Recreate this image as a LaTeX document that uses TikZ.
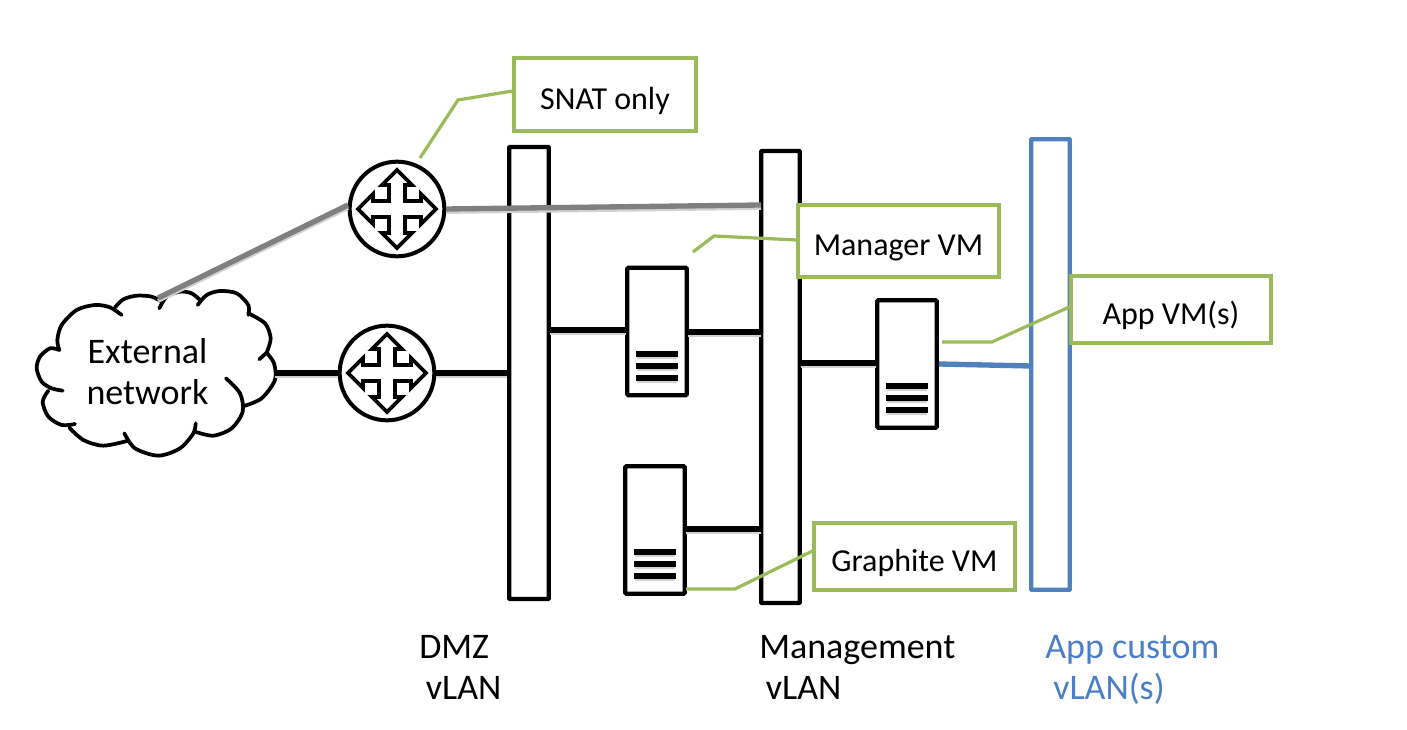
\documentclass[tikz,border=0pt]{standalone}
\usepackage{fontspec}
\setmainfont{Carlito}
\definecolor{vgreen}{HTML}{9BBB59}
\definecolor{vblue}{HTML}{4F81BD}
\definecolor{vtext}{HTML}{4A7EC8}
\definecolor{vgrey}{HTML}{7F7F7F}
\tikzset{
  lab/.style={font=\fontsize{27pt}{30.75pt}\selectfont,inner sep=0pt,align=left,anchor=north west},
  bar/.style={draw=black,line width=3.2pt,fill=white,rounded corners=0.5pt,inner sep=0pt,minimum width=#1},
  router/.style={circle,draw=black,line width=3pt,fill=white,inner sep=0pt,minimum size=71pt},
  crossarrow/.style={draw=black,line width=2.8pt,line join=miter},
  server/.style={draw=black,line width=3.2pt,fill=white,rounded corners=0.8pt,inner sep=0pt,minimum width=44.5pt,minimum height=95.5pt},
  callout/.style={draw=vgreen,line width=2.6pt,fill=white,inner sep=0pt,font=\fontsize{24pt}{30pt}\selectfont},
  leader/.style={draw=vgreen,line width=2.4pt},
  wire/.style={draw=black,line width=4pt},
  wireshadow/.style={draw=black!18,line width=3pt,transform canvas={yshift=-2.2pt}},
  greywire/.style={draw=vgrey,line width=4pt},
  bluewire/.style={draw=vblue,line width=4pt},
  cloudline/.style={draw=black,line width=2.8pt,line cap=round}
}
\newcommand{\crossat}[1]{%
  \draw[crossarrow,shift={(#1)}] (0,-39)--(-15,-24)--(-8,-24)--(-8,-8)--(-24,-8)--(-24,-15)--(-39,0)--(-24,15)--(-24,8)--(-8,8)--(-8,24)--(-15,24)--(0,39)--(15,24)--(8,24)--(8,8)--(24,8)--(24,15)--(39,0)--(24,-15)--(24,-8)--(8,-8)--(8,-24)--(15,-24)--cycle;}
\newcommand{\stackat}[1]{%
  \foreach \yy in {22.5,34.5,46.5}{
    \fill[black!18,shift={(#1)}] (-20,\yy-1) rectangle (20,\yy+5);
    \fill[black,shift={(#1)}] (-21,\yy-3) rectangle (21,\yy+3);}}
\newcommand{\boxtext}[1]{\raisebox{-11.2pt}[0pt][0pt]{#1}}
\begin{document}
\begin{tikzpicture}[x=0.75pt,y=-0.75pt]
\useasboundingbox (0,0) rectangle (1407,730);
% vLAN bars
\node[bar=29.5pt,minimum height=339pt] (dmz) at (529,373) {};
\node[bar=29pt,minimum height=339pt] (mgmt) at (780.5,377) {};
\node[bar=29pt,minimum height=338pt,draw=vblue] (app) at (1050.5,364.5) {};
% routers
\node[router] (r1) at (397,209) {};
\node[router] (r2) at (387,373) {};
\crossat{r1}
\crossat{r2}
% servers
\node[server] (s1) at (657,331.5) {};
\node[server] (s2) at (907,364) {};
\node[server] (s3) at (655,530) {};
\stackat{s1}
\stackat{s2}
\stackat{s3}
% cloud
\begin{scope}[x=0.25pt,y=-0.25pt,shift={(60,450)}]
\draw[cloudline] plot[smooth] coordinates {(118,600)(90,595)(60,620)(50,655)(65,695)(95,715)(128,722)};
\draw[cloudline] plot[smooth] coordinates {(85,722)(68,755)(85,800)(125,825)(165,822)};
\draw[cloudline] plot[smooth] coordinates {(148,833)(190,870)(250,887)(325,872)};
\draw[cloudline] plot[smooth] coordinates {(313,850)(345,895)(415,917)(480,895)(520,850)(527,820)};
\draw[cloudline] plot[smooth] coordinates {(525,845)(580,857)(635,835)(668,785)(660,730)(618,685)};
\draw[cloudline] plot[smooth] coordinates {(672,768)(725,745)(765,690)(762,640)(740,608)};
\draw[cloudline] (718,628)--(740,608);
\draw[cloudline] plot[smooth] coordinates {(740,608)(752,565)(735,520)(685,490)};
\draw[cloudline] plot[smooth] coordinates {(685,495)(685,465)(650,430)(600,423)(560,435)(533,465)};
\draw[cloudline] plot[smooth] coordinates {(540,450)(515,430)(480,425)(440,440)(418,475)};
\draw[cloudline] plot[smooth] coordinates {(425,455)(395,440)(350,437)(310,448)(285,472)};
\draw[cloudline] plot[smooth] coordinates {(305,495)(270,472)(225,465)(170,480)(125,525)(112,570)(118,600)};
\end{scope}
\node[font=\fontsize{27pt}{30.75pt}\selectfont,align=center,inner sep=0pt] (cloud) at (147.5,372) {External\\network};
\coordinate (cloudE) at (275,373);
\coordinate (cloudN) at (158,298);
% connector endpoints
\coordinate (r1W) at (348,205);
\coordinate (r1E) at (446,209);
\coordinate (mgmtG) at (761,205);
\coordinate (s1L) at (626,330);
\coordinate (dmzL) at (550,330);
\coordinate (s1R) at (688,332);
\coordinate (mgmtL) at (761,332);
\coordinate (mgmtR) at (801,363);
\coordinate (s2L) at (876,363);
\coordinate (s3R) at (686,529);
\coordinate (mgmtS) at (761,529);
\coordinate (s2R) at (939,364);
\coordinate (appL) at (1031,366);
% connector shadows
\draw[wireshadow] (cloudE) -- (r2.west);
\draw[wireshadow] (r2.east) -- (dmz.west |- r2.east);
\draw[wireshadow] (dmzL) -- (s1L);
\draw[wireshadow] (s1R) -- (mgmtL);
\draw[wireshadow] (mgmtR) -- (s2L);
\draw[wireshadow] (s3R) -- (mgmtS);
\draw[wireshadow] (cloudN) -- (r1W);
\draw[wireshadow] (r1E) -- (mgmtG);
% connectors
\draw[wire] (cloudE) -- (r2.west);
\draw[wire] (r2.east) -- (dmz.west |- r2.east);
\draw[wire] (dmzL) -- (s1L);
\draw[wire] (s1R) -- (mgmtL);
\draw[wire] (mgmtR) -- (s2L);
\draw[wire] (s3R) -- (mgmtS);
\draw[bluewire] (s2R) -- (appL);
\draw[greywire] (cloudN) -- (r1W);
\draw[greywire] (r1E) -- (mgmtG);
% callouts
\node[callout,minimum width=136.5pt,minimum height=54.5pt] (snat) at (605,94.5) {\boxtext{SNAT only}};
\node[callout,minimum width=150.5pt,minimum height=54pt] (mgr) at (898.5,241) {\boxtext{Manager VM}};
\node[callout,minimum width=150pt,minimum height=50pt] (appvm) at (1171,309.5) {\boxtext{App VM(s)}};
\node[callout,minimum width=150.5pt,minimum height=50pt] (gra) at (914.5,556.5) {\boxtext{Graphite VM}};
\coordinate (l1a) at (420,158);
\coordinate (l1b) at (458,100);
\coordinate (l2a) at (693,252);
\coordinate (l2b) at (714,236);
\coordinate (l3a) at (942,342);
\coordinate (l3b) at (992,342);
\coordinate (l4a) at (686,589);
\coordinate (l4b) at (735,589);
\draw[leader] (l1a) -- (l1b) -- (snat.west |- 0,91);
\draw[leader] (l2a) -- (l2b) -- (mgr.west |- 0,240);
\draw[leader] (l3a) -- (l3b) -- (appvm.west |- 0,307);
\draw[leader] (l4a) -- (l4b) -- (gra.west |- 0,551);
% labels
\node[lab] (ldmz) at (419,635) {DMZ\\\hspace*{5pt}vLAN};
\node[lab] (lmgmt) at (759,635) {Management\\\hspace*{5pt}vLAN};
\node[lab,text=vtext] (lapp) at (1045,635) {App custom\\\hspace*{6pt}vLAN(s)};
\end{tikzpicture}
\end{document}
